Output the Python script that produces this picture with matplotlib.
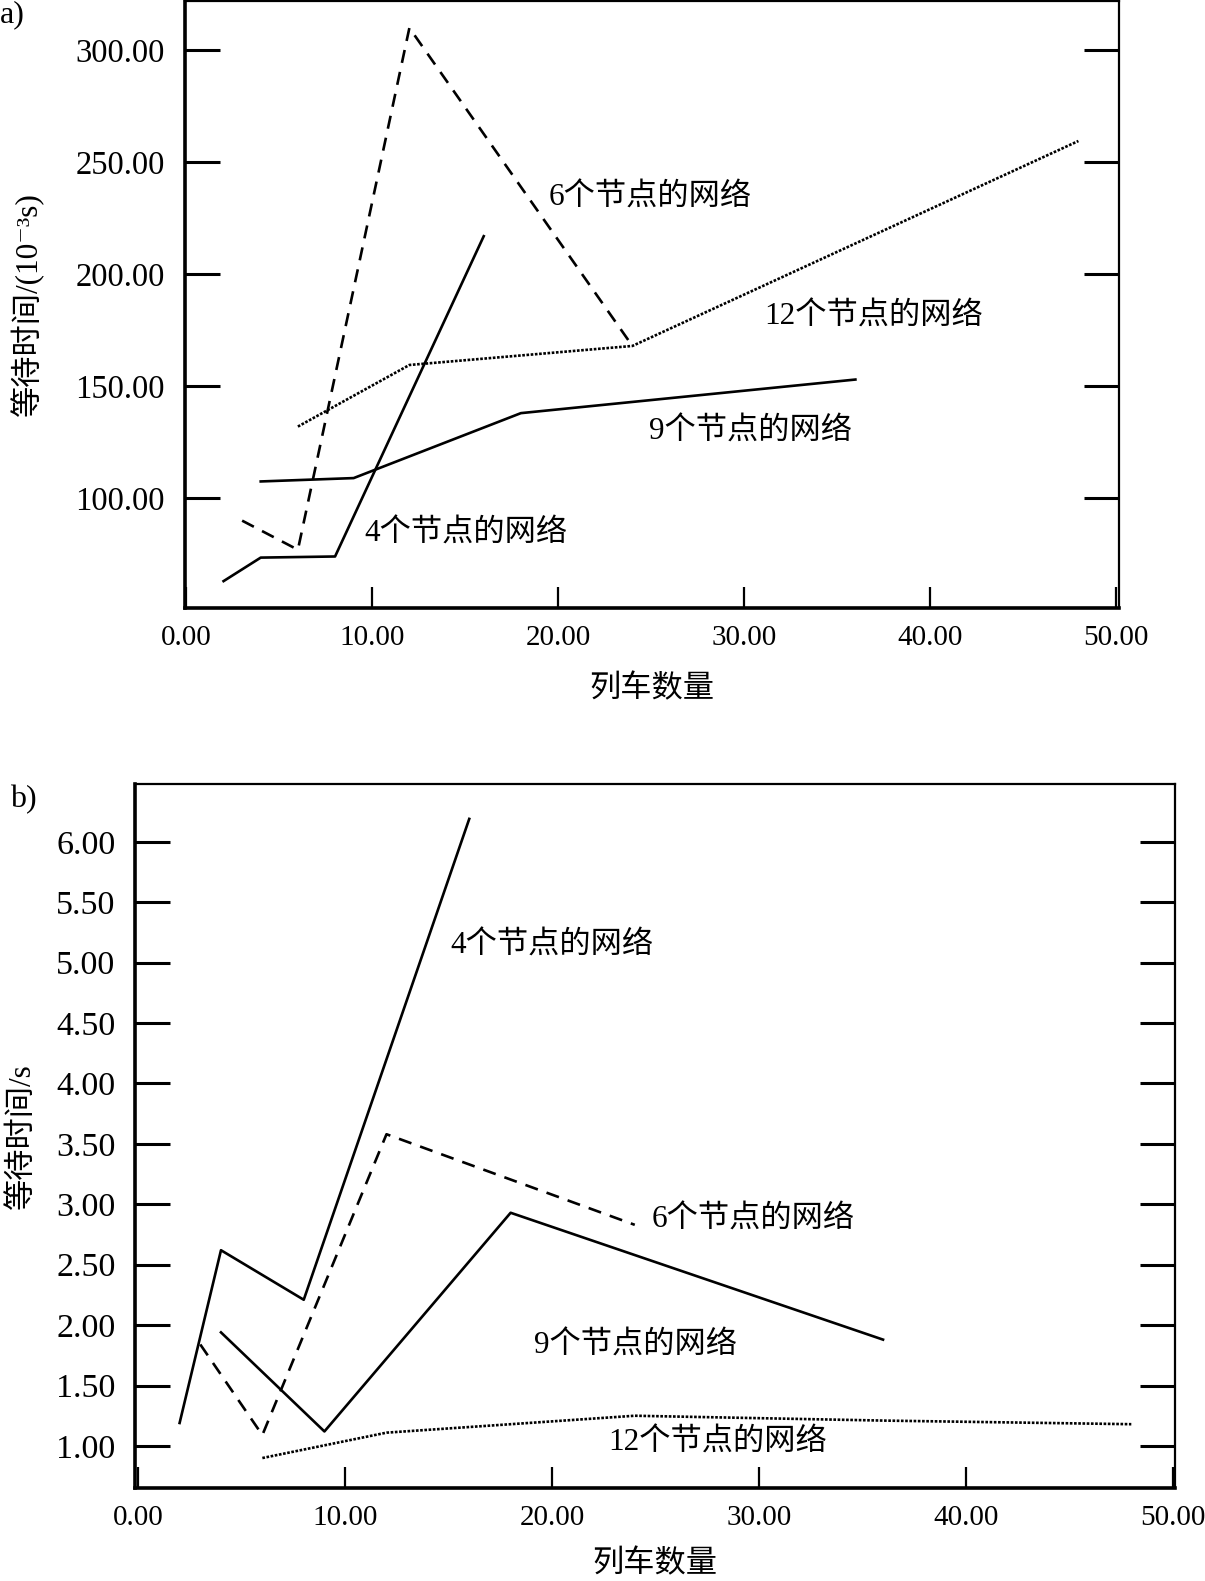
import numpy as np
import matplotlib
matplotlib.use('Agg')
import matplotlib.pyplot as plt

plt.rcParams['font.family'] = ['Liberation Serif', 'Noto Sans CJK SC', 'DejaVu Serif']

# panel a: waiting time (10^-3 s) vs number of trains
a_x4 = [2, 4, 8, 16]
a_y4 = [63, 73.5, 74, 217]
a_x6 = [3, 6, 12, 24]
a_y6 = [90, 77, 310, 168]
a_x9 = [4, 9, 18, 36]
a_y9 = [107.5, 109, 138, 153]
a_x12 = [6, 12, 24, 48]
a_y12 = [132, 159.5, 168, 259.5]

# panel b: waiting time (s) vs number of trains
b_x4 = [2, 4, 8, 16]
b_y4 = [1.19, 2.62, 2.21, 6.19]
b_x6 = [3, 6, 12, 24]
b_y6 = [1.84, 1.09, 3.58, 2.83]
b_x9 = [4, 9, 18, 36]
b_y9 = [1.94, 1.12, 2.93, 1.88]
b_x12 = [6, 12, 24, 36, 48]
b_y12 = [0.90, 1.11, 1.25, 1.21, 1.18]

labels = ['4个节点的网络', '6个节点的网络', '9个节点的网络', '12个节点的网络']
xticks = [0, 10, 20, 30, 40, 50]
a_yticks = [100, 150, 200, 250, 300]
b_yticks = [1.0, 1.5, 2.0, 2.5, 3.0, 3.5, 4.0, 4.5, 5.0, 5.5, 6.0]

LW = 1.9
solid = dict(color='black', lw=LW, ls='-')
dashed = dict(color='black', lw=LW, ls=(0, (5, 3.5)))
dotted = dict(color='black', lw=LW, ls=(0, (1, 0.6)))

fig = plt.figure(figsize=(12.05, 15.81), dpi=100)
W, H = 1195.0, 1568.0


def make_axes(l, r, t, b):
    return fig.add_axes([l / W, 1 - b / H, (r - l) / W, (b - t) / H])


def style(ax, yticks, ylab_x, xlab_y, xsize, ysize):
    for s in ['left', 'bottom']:
        ax.spines[s].set_linewidth(2.6)
    for s in ['top', 'right']:
        ax.spines[s].set_linewidth(1.6)
    ax.set_xticks(xticks)
    ax.set_xticklabels(['%.2f' % v for v in xticks])
    ax.set_yticks(yticks)
    ax.set_yticklabels(['%.2f' % v for v in yticks])
    ax.tick_params(axis='y', direction='in', length=25, width=2.2, pad=14,
                   labelsize=ysize, right=True)
    ax.tick_params(axis='x', direction='in', length=15, width=1.6, pad=12,
                   labelsize=xsize)
    ax.set_xlabel('列车数量', fontsize=22.5)
    ax.xaxis.set_label_coords(0.5, xlab_y)
    ax.yaxis.set_label_coords(ylab_x, 0.5)


# ---- panel a ----
ax1 = make_axes(183, 1110, 1, 603)
ax1.plot(a_x4, a_y4, **solid)
ax1.plot(a_x6, a_y6, **dashed)
ax1.plot(a_x9, a_y9, **solid)
ax1.plot(a_x12, a_y12, **dotted)
ax1.set_xlim(-0.1, 50.2)
ax1.set_ylim(51, 322)
style(ax1, a_yticks, -0.150, -0.110, 21, 23.5)
ax1.set_ylabel('等待时间/(10⁻³s)', fontsize=22.5)
ax1.text(9.6, 83.8, labels[0], fontsize=22.5, va='center')
ax1.text(19.5, 234, labels[1], fontsize=22.5, va='center')
ax1.text(24.9, 129.7, labels[2], fontsize=22.5, va='center')
ax1.text(31.1, 181, labels[3], fontsize=22.5, va='center')
fig.text(0.0, 1 - 15 / H, 'a)', fontsize=23, va='center', ha='left')

# ---- panel b ----
ax2 = make_axes(134, 1165, 778, 1476)
ax2.plot(b_x4, b_y4, **solid)
ax2.plot(b_x6, b_y6, **dashed)
ax2.plot(b_x9, b_y9, **solid)
ax2.plot(b_x12, b_y12, **dotted)
ax2.set_xlim(-0.15, 50.1)
ax2.set_ylim(0.65, 6.475)
style(ax2, b_yticks, -0.094, -0.088, 21, 24.5)
ax2.set_ylabel('等待时间/s', fontsize=22.5)
ax2.text(15.1, 5.14, labels[0], fontsize=22.5, va='center')
ax2.text(24.8, 2.87, labels[1], fontsize=22.5, va='center')
ax2.text(19.15, 1.83, labels[2], fontsize=22.5, va='center')
ax2.text(22.7, 1.02, labels[3], fontsize=22.5, va='center')
fig.text(10 / W, 1 - 793 / H, 'b)', fontsize=23, va='center', ha='left')

fig.savefig('out.png', dpi=100)
